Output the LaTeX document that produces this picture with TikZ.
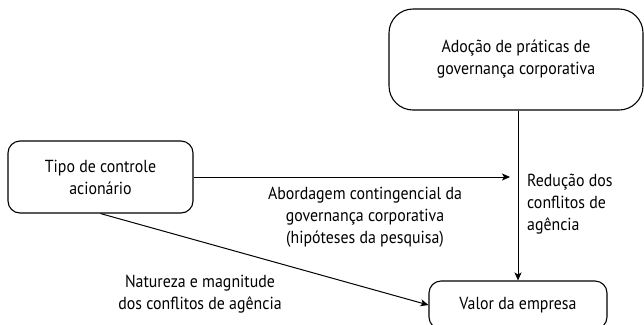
\documentclass[tikz,border=0pt]{standalone}
\usepackage{fontspec}
\setmainfont{PT Sans}[FakeStretch=0.91]
\usetikzlibrary{arrows.meta}
\begin{document}
\begin{tikzpicture}[x=1bp,y=-1bp,
  box/.style={draw, line width=1.1bp, align=center, font=\fontsize{17.5}{22}\selectfont, inner sep=0pt},
  lbl/.style={align=center, font=\fontsize{17.5}{22}\selectfont, inner sep=0pt},
  arr/.style={line width=1bp, -{Stealth[length=8bp,width=7bp,inset=2bp]}}]
\useasboundingbox (0,0) rectangle (644,324);
\node[box, rounded corners=24bp, minimum width=254bp, minimum height=101bp] (gov) at (516,59.5) {Adoção de práticas de\\governança corporativa};
\node[box, rounded corners=12bp, minimum width=185bp, minimum height=72bp] (ctrl) at (100.5,177) {Tipo de controle\\acionário};
\node[box, rounded corners=12bp, minimum width=178bp, minimum height=48bp] (valor) at (518,305) {Valor da empresa};
\coordinate (hend) at (510,177);
\draw[arr] (ctrl.east) -- (hend);
\draw[arr] (gov.south -| valor.north) -- (valor.north);
\draw[arr] (ctrl.south) -- (valor.west);
\node[lbl] (abord) at (365,217) {Abordagem contingencial da\\governança corporativa\\(hipóteses da pesquisa)};
\node[lbl, align=left, anchor=west] (red) at (527,204) {Redução dos\\conflitos de\\agência};
\node[lbl] (nat) at (200,294) {Natureza e magnitude\\dos conflitos de agência};
\end{tikzpicture}
\end{document}
